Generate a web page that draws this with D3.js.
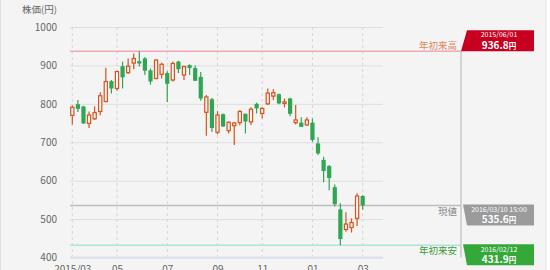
<!DOCTYPE html>
<html>
<head>
<meta charset="utf-8">
<script src="https://cdn.jsdelivr.net/npm/d3@7"></script>
<style>
  body { margin: 0; background: #fff; }
  text { font-family: "Noto Sans CJK JP", "Noto Sans", sans-serif; }
</style>
</head>
<body>
<div id="chart"></div>
<script>
// weekly candles (week start dates)
var weeks = [
  "2015-03-09","2015-03-16","2015-03-23","2015-03-30","2015-04-06","2015-04-13","2015-04-20","2015-04-27",
  "2015-05-04","2015-05-11","2015-05-18","2015-05-25","2015-06-01","2015-06-08","2015-06-15","2015-06-22",
  "2015-06-29","2015-07-06","2015-07-13","2015-07-20","2015-07-27","2015-08-03","2015-08-10","2015-08-17",
  "2015-08-24","2015-08-31","2015-09-07","2015-09-14","2015-09-21","2015-09-28","2015-10-05","2015-10-12",
  "2015-10-19","2015-10-26","2015-11-02","2015-11-09","2015-11-16","2015-11-23","2015-11-30","2015-12-07",
  "2015-12-14","2015-12-21","2015-12-28","2016-01-04","2016-01-11","2016-01-18","2016-01-25","2016-02-01",
  "2016-02-08","2016-02-15","2016-02-22","2016-02-29","2016-03-07"
];
var opens = [770,799,793,749,761,780,806,859,840,898,881,906,911,918,887,866,877,880,862,910,875,901,893,870,
  778,812,726,773,730,743,751,774,753,800,775,800,820,825,801,814,751,751,745,751,697,654,638,583,525,473,478,502,560];
var highs = [796,810,795,780,794,830,894,862,886,910,918,931,936.8,922,892,916,907,885,910,912,900,903,900,883,
  823,815,781,775,754,753,784,775,791,803,791,840,838,827,814,816,797,765,765,762,713,662,641,590,541,518,502,567,562];
var lows = [746,779,748,737,758,770,804,827,834,840,878,890,897,875,850,864,866,805,858,880,862,875,860,808,
  717,727,721,740,723,693,744,723,745,775,762,797,810,799,791,768,746,740,743,701,667,596,575,533,431.9,467,465,482,524];
var closes = [791,787,749,771,777,821,858,840,884,869,898,918,905,886,858,914,903,852,905,890,897,893,860,814,
  818,737,771,741,752,750,780,754,786,788,788,828,829,801,805,774,758,740,758,706,671,625,607,539,448,487,491,560,535.6];

var yTicks = [400, 500, 600, 700, 800, 900, 1000];
var xTickWeeks = ["2015-03-09","2015-05-04","2015-07-06","2015-09-07","2015-11-02","2016-01-04","2016-03-07"];
var xTickLabels = ["2015/03","05","07","09","11","01","03"];

// reference lines: 年初来高, 現値, 年初来安
var refNames = ["年初来高", "現値", "年初来安"];
var refValues = [936.8, 535.6, 431.9];
var refDates = ["2015/06/01", "2016/03/10 15:00", "2016/02/12"];

var svgWidth = 550, svgHeight = 270;
var plotLeft = 70, plotRight = 383, markerX = 461;

var svg = d3.select("#chart").append("svg")
  .attr("width", svgWidth)
  .attr("height", svgHeight);

svg.append("rect")
  .attr("x", 0.5).attr("y", -2)
  .attr("width", 545.5).attr("height", svgHeight + 10)
  .attr("fill", "#f4f4f4")
  .attr("stroke", "#e0e0e0");

var x = d3.scalePoint().domain(weeks).range([72.3, 362.7]);
var y = d3.scaleLinear().domain([400, 1000]).range([257.5, 27]);

// horizontal grid
svg.append("g")
  .attr("transform", `translate(${plotLeft},0)`)
  .call(d3.axisLeft(y).tickValues(yTicks).tickSize(-(plotRight - plotLeft)).tickFormat(""))
  .call(g => g.select(".domain").remove())
  .selectAll("line").attr("stroke", "#dedede");

// vertical dashed grid
svg.append("g")
  .selectAll("line")
  .data(xTickWeeks)
  .enter()
  .append("line")
  .attr("x1", d => x(d)).attr("x2", d => x(d))
  .attr("y1", y(1000)).attr("y2", y(400))
  .attr("stroke", "#d6d6d6")
  .attr("stroke-dasharray", "3,3");

// y labels
var yAxis = svg.append("g")
  .attr("transform", `translate(${plotLeft},0)`)
  .call(d3.axisLeft(y).tickValues(yTicks).tickSize(0).tickPadding(13).tickFormat(d3.format("d")));
yAxis.select(".domain").remove();
yAxis.selectAll("text").attr("fill", "#666").attr("font-size", 10);

// x axis
var xAxis = svg.append("g")
  .attr("transform", `translate(0,${y(400)})`)
  .call(d3.axisBottom(x).tickValues(xTickWeeks).tickSize(0).tickPadding(8)
    .tickFormat((d, i) => xTickLabels[i]));
xAxis.select(".domain").remove();
xAxis.selectAll("text").attr("fill", "#666").attr("font-size", 10);
svg.append("line")
  .attr("x1", plotLeft).attr("x2", plotRight)
  .attr("y1", y(400)).attr("y2", y(400))
  .attr("stroke", "#dbe1ea").attr("stroke-width", 2);

svg.append("text")
  .attr("x", 22).attr("y", 13)
  .attr("font-size", 9.5)
  .attr("fill", "#666")
  .text("株価(円)");

// reference lines
var refColors = ["#f2a9b6", "#bdbdbd", "#a9e6d8"];
svg.append("g")
  .selectAll("line")
  .data(refValues)
  .enter()
  .append("line")
  .attr("x1", plotLeft).attr("x2", markerX)
  .attr("y1", d => y(d)).attr("y2", d => y(d))
  .attr("stroke", (d, i) => refColors[i])
  .attr("stroke-width", 1.5);

svg.append("line")
  .attr("x1", markerX).attr("x2", markerX)
  .attr("y1", y(refValues[0])).attr("y2", y(400))
  .attr("stroke", "#c8c8c8").attr("stroke-width", 1.5);

// candles
var candles = weeks.map((w, i) => ({
  week: w, open: opens[i], high: highs[i], low: lows[i], close: closes[i]
}));
var upColor = "#d5531d", downColor = "#2ea653";

var cg = svg.append("g").selectAll("g")
  .data(candles)
  .enter()
  .append("g");

cg.append("line")
  .attr("x1", d => x(d.week)).attr("x2", d => x(d.week))
  .attr("y1", d => y(d.high)).attr("y2", d => y(d.low))
  .attr("stroke", d => d.close >= d.open ? upColor : downColor)
  .attr("stroke-width", 1.2);

cg.append("rect")
  .attr("x", d => d.close >= d.open ? x(d.week) - 1.6 : x(d.week) - 2.1)
  .attr("width", d => d.close >= d.open ? 3.2 : 4.2)
  .attr("y", d => y(Math.max(d.open, d.close)))
  .attr("height", d => Math.max(1, Math.abs(y(d.open) - y(d.close))))
  .attr("fill", d => d.close >= d.open ? "#f6f6f6" : downColor)
  .attr("stroke", d => d.close >= d.open ? upColor : "none")
  .attr("stroke-width", 1.2);

// labels on the left of the marker line
var nameColors = ["#d98a5c", "#888888", "#3a9a3a"];
var nameY = [48.5, 215, 254];
svg.append("g")
  .selectAll("text")
  .data(refNames)
  .enter()
  .append("text")
  .attr("x", 457)
  .attr("y", (d, i) => nameY[i])
  .attr("text-anchor", "end")
  .attr("font-size", 9.5)
  .attr("fill", (d, i) => nameColors[i])
  .text(d => d);

// tags
var tagColors = ["#c8001f", "#9b9b9b", "#35a83a"];
var tags = svg.append("g")
  .selectAll("g")
  .data(refValues)
  .enter()
  .append("g");

tags.append("path")
  .attr("d", (d, i) => {
    var yy = y(d);
    if (i === 0) {
      return `M${markerX},${yy} L${markerX + 6},${yy - 21} L534,${yy - 21} L534,${yy} Z`;
    }
    return `M${markerX + 2},${yy - 1} L534,${yy - 1} L534,${yy + 20} L${markerX + 6},${yy + 20} Z`;
  })
  .attr("fill", (d, i) => tagColors[i]);

tags.append("text")
  .attr("x", 499)
  .attr("y", (d, i) => i === 0 ? y(d) - 14 : y(d) + 6.5)
  .attr("text-anchor", "middle")
  .attr("font-size", 7)
  .attr("fill", "#fff")
  .text((d, i) => refDates[i]);

var valText = tags.append("text")
  .attr("x", 499)
  .attr("y", (d, i) => i === 0 ? y(d) - 2.5 : y(d) + 17.5)
  .attr("text-anchor", "middle")
  .attr("font-weight", "bold")
  .attr("fill", "#fff");
valText.append("tspan").attr("font-size", 10).text(d => d.toFixed(1));
valText.append("tspan").attr("font-size", 7.5).text("円");
</script>
</body>
</html>
